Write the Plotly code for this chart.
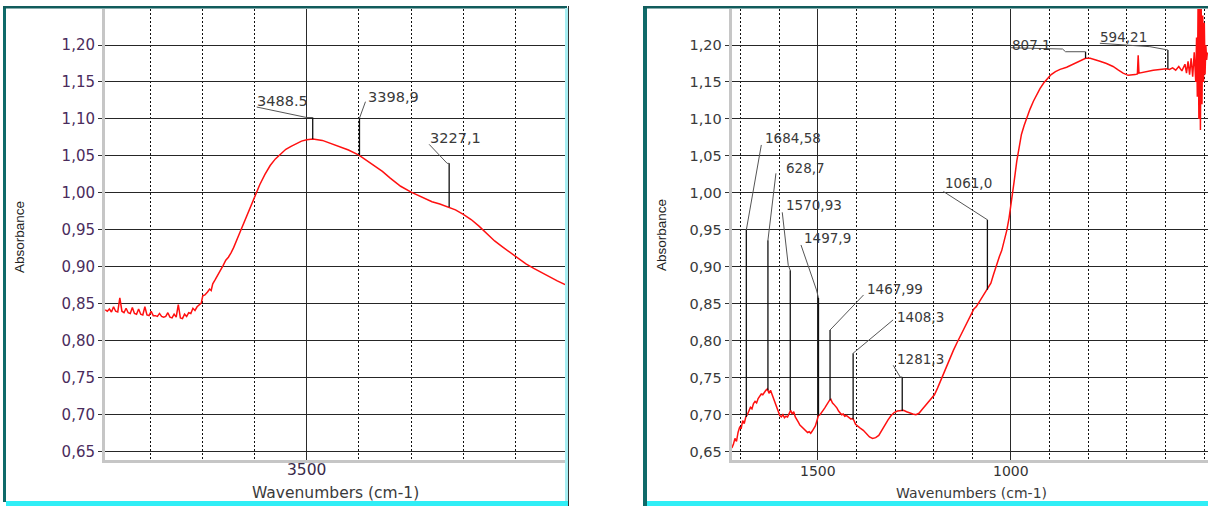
import plotly.graph_objects as go

# ---------------- data ----------------
left_wn = [3886, 3882, 3878, 3874, 3870, 3866, 3862, 3858, 3854, 3850, 3846, 3842, 3838, 3834,
           3830, 3826, 3822, 3818, 3814, 3810, 3806, 3802, 3798, 3794, 3790, 3786, 3782, 3778,
           3774, 3770, 3766, 3762, 3758, 3754, 3750, 3746, 3742, 3738, 3734, 3730, 3726, 3722,
           3718, 3714, 3710, 3706, 3702, 3699, 3695, 3690, 3686, 3683, 3680, 3675, 3670, 3665,
           3660, 3655, 3650, 3645, 3640, 3630, 3620, 3610, 3600, 3590, 3580, 3570, 3560, 3550,
           3540, 3530, 3520, 3510, 3500, 3488, 3470, 3450, 3420, 3400, 3385, 3370, 3355, 3340,
           3320, 3300, 3280, 3260, 3245, 3230, 3215, 3200, 3185, 3170, 3155, 3140, 3125, 3110,
           3095, 3080, 3065, 3050, 3035, 3020, 3005]
left_abs = [0.842, 0.840, 0.843, 0.839, 0.846, 0.840, 0.839, 0.858, 0.840, 0.838, 0.844, 0.838, 0.837, 0.845,
            0.837, 0.836, 0.843, 0.836, 0.835, 0.846, 0.835, 0.834, 0.840, 0.834, 0.834, 0.833, 0.837, 0.833,
            0.832, 0.833, 0.838, 0.832, 0.831, 0.836, 0.832, 0.849, 0.831, 0.830, 0.836, 0.833, 0.838, 0.837,
            0.844, 0.841, 0.846, 0.849, 0.851, 0.861, 0.862, 0.866, 0.870, 0.868, 0.877, 0.883, 0.889, 0.895,
            0.902, 0.909, 0.913, 0.919, 0.926, 0.943, 0.960, 0.978, 0.995, 1.011, 1.025, 1.037, 1.046, 1.053,
            1.059, 1.063, 1.067, 1.070, 1.072, 1.073, 1.071, 1.066, 1.058, 1.051, 1.044, 1.037, 1.029, 1.020,
            1.009, 1.001, 0.994, 0.988, 0.985, 0.981, 0.977, 0.971, 0.964, 0.955, 0.945, 0.935, 0.927, 0.919,
            0.912, 0.904, 0.898, 0.892, 0.886, 0.881, 0.876]

right_wn = [1722, 1718, 1714, 1710, 1706, 1702, 1698, 1694, 1690, 1686, 1682, 1678, 1674, 1670, 1666,
            1662, 1658, 1654, 1650, 1646, 1642, 1638, 1634, 1630, 1626, 1622, 1618, 1614, 1610, 1606,
            1602, 1598, 1594, 1590, 1586, 1582, 1578, 1574, 1570, 1566, 1562, 1558, 1554, 1550, 1546,
            1542, 1538, 1534, 1530, 1526, 1522, 1518, 1514, 1510, 1506, 1502, 1498, 1494, 1490, 1486,
            1482, 1478, 1474, 1470, 1466, 1462, 1458, 1454, 1450, 1446, 1442, 1438, 1434, 1430, 1426,
            1422, 1418, 1414, 1410, 1406, 1402, 1398, 1390, 1382, 1374, 1366, 1358, 1350, 1342, 1334,
            1326, 1318, 1310, 1302, 1294, 1286, 1278, 1270, 1262, 1254, 1246, 1238, 1230, 1222, 1214,
            1206, 1198, 1190, 1182, 1175, 1165, 1155, 1149, 1140, 1130, 1123, 1112, 1102, 1096, 1090,
            1080, 1070, 1060, 1052, 1045, 1037, 1030, 1024, 1017, 1011, 1005, 998, 992, 985, 979,
            973, 966, 960, 951, 942, 933, 925, 915, 904, 896, 885, 873, 856, 839, 822, 807,
            795, 780, 770, 753, 736, 722, 710, 697, 688, 679, 673, 671, 669, 660, 645,
            632, 615, 598, 590, 582, 574, 566, 558, 550, 546, 542, 538, 534, 530, 526,
            522, 520, 518, 516, 514, 512, 510, 508, 506, 504, 502, 500, 498, 496, 494, 492]
right_abs = [0.655, 0.660, 0.668, 0.664, 0.676, 0.683, 0.681, 0.692, 0.688, 0.697, 0.700, 0.704, 0.710, 0.708, 0.715,
             0.718, 0.716, 0.722, 0.725, 0.728, 0.727, 0.731, 0.733, 0.735, 0.729, 0.733, 0.727, 0.721, 0.716, 0.710,
             0.704, 0.699, 0.697, 0.700, 0.696, 0.698, 0.697, 0.703, 0.706, 0.701, 0.704, 0.697, 0.694, 0.690, 0.686,
             0.684, 0.682, 0.680, 0.678, 0.676, 0.677, 0.675, 0.678, 0.681, 0.685, 0.692, 0.699, 0.700, 0.704, 0.706,
             0.709, 0.713, 0.716, 0.719, 0.721, 0.716, 0.714, 0.712, 0.709, 0.705, 0.703, 0.700, 0.701, 0.698, 0.699,
             0.697, 0.696, 0.694, 0.695, 0.692, 0.687, 0.685, 0.682, 0.679, 0.674, 0.670, 0.668, 0.669, 0.672, 0.679,
             0.687, 0.693, 0.699, 0.703, 0.705, 0.705, 0.706, 0.704, 0.702, 0.701, 0.700, 0.702, 0.707, 0.712, 0.717,
             0.721, 0.727, 0.736, 0.746, 0.756, 0.769, 0.780, 0.787, 0.797, 0.807, 0.814, 0.826, 0.836, 0.843, 0.846,
             0.854, 0.862, 0.870, 0.878, 0.890, 0.904, 0.914, 0.922, 0.935, 0.949, 0.966, 0.989, 1.015, 1.043, 1.063,
             1.079, 1.091, 1.101, 1.113, 1.124, 1.134, 1.141, 1.149, 1.156, 1.160, 1.164, 1.167, 1.170, 1.174, 1.178, 1.182,
             1.182, 1.180, 1.178, 1.175, 1.171, 1.166, 1.162, 1.159, 1.159, 1.160, 1.161, 1.186, 1.162, 1.163, 1.165,
             1.166, 1.167, 1.168, 1.167, 1.169, 1.166, 1.171, 1.165, 1.174, 1.162, 1.178, 1.160, 1.182, 1.157, 1.190,
             1.150, 1.210, 1.130, 1.260, 1.100, 1.250, 1.085, 1.250, 1.120, 1.240, 1.150, 1.230, 1.160, 1.200, 1.180, 1.190]

# peak labels
left_labels = ["3488.5", "3398,9", "3227,1"]
left_label_wn = [3488.5, 3398.9, 3227.1]
left_label_abs = [1.073, 1.051, 0.981]

right_labels = ["1684,58", "628,7", "1570,93", "1497,9", "1467,99", "1408,3", "1281,3",
                "1061,0", "807.1", "594,21"]
right_label_wn = [1684.58, 1628.7, 1570.93, 1497.9, 1467.99, 1408.3, 1281.3, 1061.0, 807.1, 594.21]
right_label_abs = [0.697, 0.733, 0.706, 0.699, 0.720, 0.694, 0.705, 0.869, 1.182, 1.168]

y_tick_vals = [0.65, 0.70, 0.75, 0.80, 0.85, 0.90, 0.95, 1.00, 1.05, 1.10, 1.15, 1.20]
y_tick_text = ["0,65", "0,70", "0,75", "0,80", "0,85", "0,90", "0,95", "1,00", "1,05", "1,10", "1,15", "1,20"]
left_x_tick_vals = [3500]
left_x_tick_text = ["3500"]
right_x_tick_vals = [1500, 1000]
right_x_tick_text = ["1500", "1000"]

# ---------------- layout geometry (pixels) ----------------
W, H = 1208, 506
LX0, LX1 = 105, 565
RX0, RX1 = 731.7, 1208
YT, YB = 9, 460
L_RANGE = [3886.4, 3005.2]
R_RANGE = [1722.4, 490.4]
Y_RANGE = [0.6388, 1.2487]

# leader-line styling: rise (px), path offsets (px from top of vertical), text offset (px)
left_leaders = [
    dict(rise=21.4, path=[(-6, 0), (-56, -10.5)], text=(-58, -17)),
    dict(rise=37, path=[(6, -16.5)], text=(7, -21)),
    dict(rise=43.6, path=[(-2, 0), (-20, -19)], text=(-21, -25.5)),
]
right_leaders = [
    dict(rise=187, path=[(15, -85)], text=(17, -92)),
    dict(rise=150, path=[(8, -67)], text=(16, -72)),
    dict(rise=140, path=[(-2, -5), (-8, -58)], text=(-6, -65)),
    dict(rise=117.5, path=[(-2, -8), (-17.5, -53)], text=(-16.5, -60)),
    dict(rise=70, path=[(2, -2), (33.5, -35)], text=(35, -41)),
    dict(rise=66, path=[(2, -1.6), (40, -33.3)], text=(42, -36.6)),
    dict(rise=34, path=[(-2, 0), (-9, -11.7)], text=(-7, -18.4)),
    dict(rise=70, path=[(-44, -28.3)], text=(-44.7, -36.7)),
    dict(rise=6.6, path=[(-20, 0), (-23, -2.7), (-75, -4)], text=(-75.6, -6.7)),
    dict(rise=18.7, path=[(-18, -3.3), (-68, -6.7)], text=(-69.6, -12.7)),
]


def x_to_px(wn, rng, p0, p1):
    return p0 + (wn - rng[0]) / (rng[1] - rng[0]) * (p1 - p0)


def px_to_x(px, rng, p0, p1):
    return rng[0] + (px - p0) / (p1 - p0) * (rng[1] - rng[0])


def y_to_px(v):
    return YB - (v - Y_RANGE[0]) / (Y_RANGE[1] - Y_RANGE[0]) * (YB - YT)


def px_to_y(py):
    return Y_RANGE[0] + (YB - py) / (YB - YT) * (Y_RANGE[1] - Y_RANGE[0])


fig = go.Figure()

RED = "#ff1010"
fig.add_trace(go.Scatter(x=left_wn, y=left_abs, mode="lines", line=dict(color=RED, width=1.5),
                         xaxis="x", yaxis="y", hoverinfo="skip", showlegend=False))
fig.add_trace(go.Scatter(x=right_wn, y=right_abs, mode="lines", line=dict(color=RED, width=1.5),
                         xaxis="x2", yaxis="y2", hoverinfo="skip", showlegend=False))

annotations = []


def add_labels(labels, wns, abss, leaders, rng, p0, p1, xa, ya, fsize):
    for lab, wn, ab, ld in zip(labels, wns, abss, leaders):
        px = x_to_px(wn, rng, p0, p1)
        py = y_to_px(ab)
        ty = py - ld["rise"]
        # vertical part
        fig.add_trace(go.Scatter(x=[wn, wn], y=[ab, px_to_y(ty)], mode="lines",
                                 line=dict(color="#111111", width=1.3), xaxis=xa, yaxis=ya,
                                 hoverinfo="skip", showlegend=False))
        # diagonal part
        xs = [wn] + [px_to_x(px + dx, rng, p0, p1) for dx, dy in ld["path"]]
        ys = [px_to_y(ty)] + [px_to_y(ty + dy) for dx, dy in ld["path"]]
        fig.add_trace(go.Scatter(x=xs, y=ys, mode="lines", line=dict(color="#555555", width=1),
                                 xaxis=xa, yaxis=ya, hoverinfo="skip", showlegend=False))
        tdx, tdy = ld["text"]
        annotations.append(dict(x=px_to_x(px + tdx, rng, p0, p1), y=px_to_y(ty + tdy), xref=xa, yref=ya,
                                text=lab, showarrow=False, xanchor="left", yanchor="middle",
                                font=dict(family="DejaVu Sans", size=fsize, color="#3a3a3a")))


add_labels(left_labels, left_label_wn, left_label_abs, left_leaders, L_RANGE, LX0, LX1, "x", "y", 14.5)
add_labels(right_labels, right_label_wn, right_label_abs, right_leaders, R_RANGE, RX0, RX1, "x2", "y2", 13.5)

# x tick labels (drawn as annotations to control their vertical position)
for v, t in zip(left_x_tick_vals, left_x_tick_text):
    annotations.append(dict(x=v, y=1 - 470 / H, xref="x", yref="paper", text=t, showarrow=False,
                            xanchor="center", yanchor="middle",
                            font=dict(family="DejaVu Sans", size=15.5, color="#3a2a4a")))
for v, t in zip(right_x_tick_vals, right_x_tick_text):
    annotations.append(dict(x=v, y=1 - 471 / H, xref="x2", yref="paper", text=t, showarrow=False,
                            xanchor="center", yanchor="middle",
                            font=dict(family="DejaVu Sans", size=14, color="#333333")))

# axis titles
annotations += [
    dict(x=335 / W, y=1 - 493 / H, xref="paper", yref="paper", text="Wavenumbers (cm-1)", showarrow=False,
         xanchor="center", yanchor="middle", font=dict(family="DejaVu Sans", size=15.5, color="#3a3a3a")),
    dict(x=971 / W, y=1 - 493 / H, xref="paper", yref="paper", text="Wavenumbers (cm-1)", showarrow=False,
         xanchor="center", yanchor="middle", font=dict(family="DejaVu Sans", size=14, color="#3a3a3a")),
    dict(x=20 / W, y=1 - 237 / H, xref="paper", yref="paper", text="Absorbance", showarrow=False, textangle=-90,
         xanchor="center", yanchor="middle", font=dict(family="Liberation Sans", size=13.5, color="#222222")),
    dict(x=661 / W, y=1 - 235 / H, xref="paper", yref="paper", text="Absorbance", showarrow=False, textangle=-90,
         xanchor="center", yanchor="middle", font=dict(family="Liberation Sans", size=13.5, color="#222222")),
]


def prect(x0, y0, x1, y1, color):
    return dict(type="rect", xref="paper", yref="paper", x0=x0 / W, x1=x1 / W, y0=1 - y1 / H, y1=1 - y0 / H,
                fillcolor=color, line=dict(width=0), layer="above")


TEAL = "#0f6a69"
CYAN = "#30eef6"
shapes = [
    prect(3, 6, 6, 502, TEAL),
    prect(3, 6, 567, 8.5, "#125c5c"),
    prect(565, 8, 568, 502, "#a6eef2"),
    prect(568, 6, 569, 506, "#333333"),
    prect(6, 501, 568, 506, CYAN),
    prect(643, 6, 647, 506, TEAL),
    prect(643, 6, 1208, 8.5, "#125c5c"),
    prect(647, 501, 1208, 506, CYAN),
]

y_common = dict(range=Y_RANGE, tickmode="array", tickvals=y_tick_vals, ticktext=y_tick_text,
                showgrid=True, gridcolor="#262626", gridwidth=1, zeroline=False,
                showline=True, linecolor="#c6c6c6", linewidth=3,
                ticks="outside", ticklen=4, tickcolor="#333333", tickwidth=1,
                domain=[1 - YB / H, 1 - YT / H], fixedrange=True)

x_common = dict(showgrid=True, gridcolor="#2a2a2a", gridwidth=1, zeroline=False,
                showline=True, linecolor="#c6c6c6", linewidth=3, ticks="",
                tickmode="array", showticklabels=False, fixedrange=True,
                minor=dict(dtick=100, tick0=0, showgrid=True, gridcolor="#111111", gridwidth=1.2,
                           griddash="2px,2px", ticks=""))

fig.update_layout(
    width=W, height=H, margin=dict(l=0, r=0, t=0, b=0),
    paper_bgcolor="white", plot_bgcolor="white", showlegend=False,
    xaxis=dict(x_common, range=L_RANGE, domain=[LX0 / W, LX1 / W], tickvals=left_x_tick_vals,
               ticktext=left_x_tick_text, anchor="y"),
    yaxis=dict(y_common, anchor="x", tickfont=dict(family="DejaVu Sans", size=15, color="#4a2c5c")),
    xaxis2=dict(x_common, range=R_RANGE, domain=[RX0 / W, RX1 / W], tickvals=right_x_tick_vals,
                ticktext=right_x_tick_text, anchor="y2"),
    yaxis2=dict(y_common, anchor="x2", tickfont=dict(family="DejaVu Sans", size=14.5, color="#3a3a3a")),
    annotations=annotations, shapes=shapes,
)

fig.write_html("out.html")
